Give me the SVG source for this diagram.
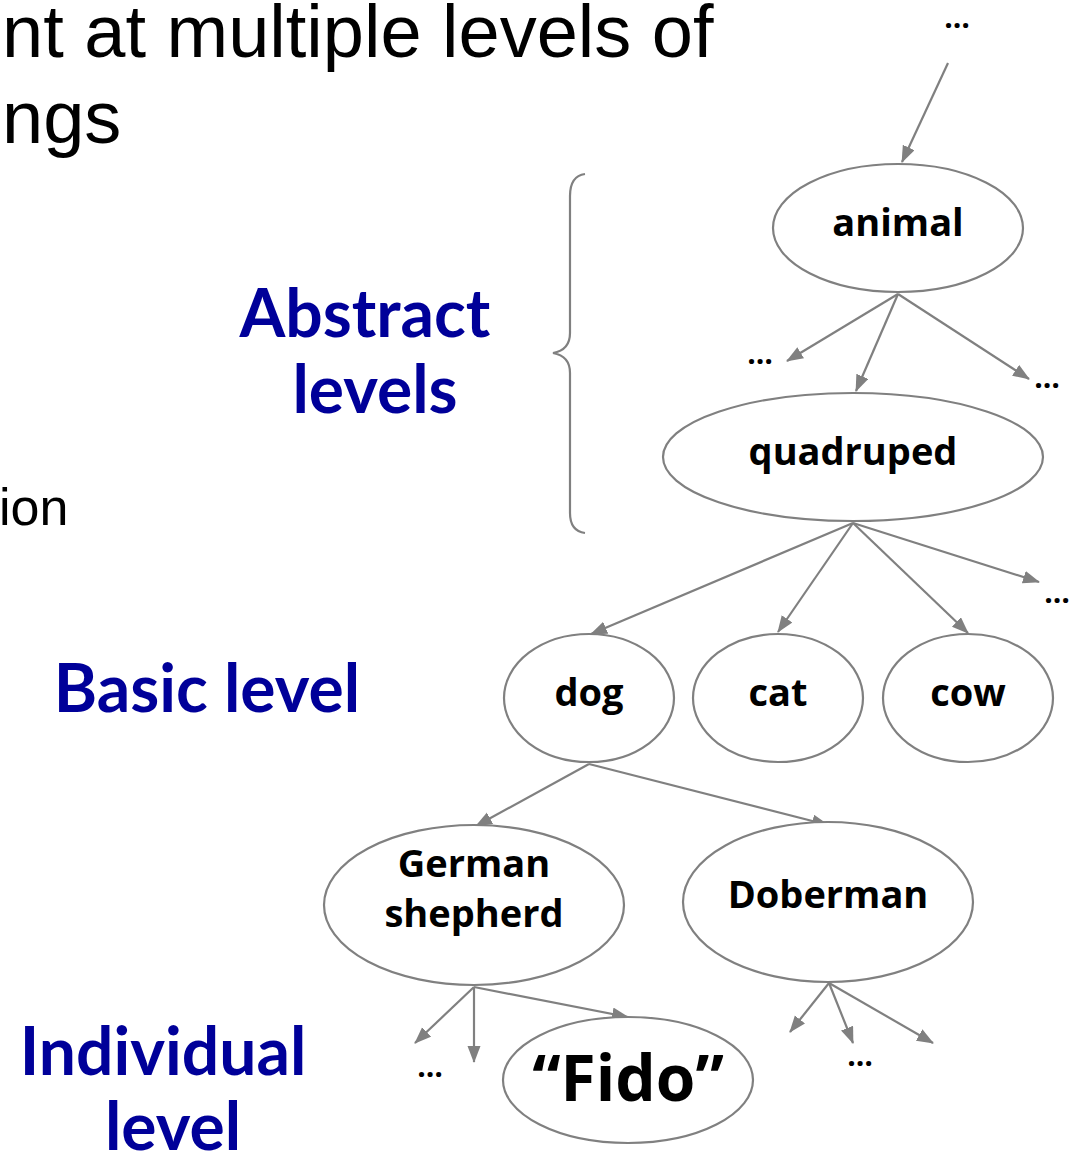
<svg xmlns="http://www.w3.org/2000/svg" width="1071" height="1152" viewBox="0 0 1071 1152">
  <style>
    .body { font-family: "Liberation Sans", Arial, sans-serif; fill: #000; }
    .lvl { font-family: "Lato", "Open Sans", sans-serif; font-weight: 700; fill: #000099; font-size: 66px; text-anchor: middle; }
    .lbl { font-family: "Open Sans", "Lato", sans-serif; font-weight: 700; fill: #000; font-size: 38px; text-anchor: middle; }
    .big { font-size: 64px; }
    .dots { font-family: "Open Sans", sans-serif; font-weight: 700; fill: #000; font-size: 30px; text-anchor: middle; }
    .node ellipse { fill: #fff; stroke: #808080; stroke-width: 2.2; }
    .edge { stroke: #808080; stroke-width: 2.2; fill: none; marker-end: url(#head); }
    .brace { stroke: #808080; stroke-width: 2.2; fill: none; }
  </style>
  <defs>
    <marker id="head" markerUnits="userSpaceOnUse" markerWidth="18" markerHeight="14" refX="16" refY="6.5" orient="auto">
      <path d="M0,0 L17,6.5 L0,13 Z" fill="#808080"/>
    </marker>
  </defs>
  <rect width="1071" height="1152" fill="#fff"/>

  <!-- slide body text (cut at left edge) -->
  <text class="body" x="2" y="57" font-size="74">nt at multiple levels of</text>
  <text class="body" x="2" y="143" font-size="74">ngs</text>
  <text class="body" x="-1" y="525" font-size="52">ion</text>

  <!-- level labels -->
  <text class="lvl" x="365" y="337">Abstract</text>
  <text class="lvl" x="375" y="413">levels</text>
  <text class="lvl" x="207" y="712">Basic level</text>
  <text class="lvl" x="163" y="1075">Individual</text>
  <text class="lvl" x="173" y="1150">level</text>

  <!-- brace spanning the abstract levels -->
  <path class="brace" d="M585,174 Q570,176 570,196 L570,333 Q570,350 553,353 Q570,356 570,373 L570,513 Q570,531 585,533"/>

  <!-- connectors -->
  <g id="edges">
    <line class="edge" x1="948" y1="63" x2="902" y2="162"/>
    <line class="edge" x1="898" y1="294" x2="787" y2="361"/>
    <line class="edge" x1="898" y1="294" x2="856" y2="391"/>
    <line class="edge" x1="898" y1="294" x2="1029" y2="379"/>
    <line class="edge" x1="853" y1="523" x2="591" y2="634"/>
    <line class="edge" x1="853" y1="523" x2="778" y2="632"/>
    <line class="edge" x1="853" y1="523" x2="968" y2="633"/>
    <line class="edge" x1="853" y1="523" x2="1039" y2="582"/>
    <line class="edge" x1="589" y1="764" x2="476" y2="826"/>
    <line class="edge" x1="589" y1="764" x2="828" y2="825"/>
    <line class="edge" x1="474" y1="987" x2="415" y2="1043"/>
    <line class="edge" x1="474" y1="987" x2="474" y2="1062"/>
    <line class="edge" x1="474" y1="987" x2="628" y2="1017"/>
    <line class="edge" x1="829" y1="983" x2="790" y2="1032"/>
    <line class="edge" x1="829" y1="983" x2="853" y2="1043"/>
    <line class="edge" x1="829" y1="983" x2="933" y2="1043"/>
  </g>

  <!-- elided branches -->
  <text class="dots" x="957" y="28">…</text>
  <text class="dots" x="760" y="364">…</text>
  <text class="dots" x="1047" y="388">…</text>
  <text class="dots" x="1057" y="603">…</text>
  <text class="dots" x="430" y="1077">…</text>
  <text class="dots" x="860" y="1066">…</text>

  <!-- nodes -->
  <g id="animal" class="node">
    <ellipse cx="898" cy="228" rx="125" ry="64"/>
    <text class="lbl" x="898" y="236">animal</text>
  </g>
  <g id="quadruped" class="node">
    <ellipse cx="853" cy="457" rx="190" ry="64"/>
    <text class="lbl" x="853" y="465">quadruped</text>
  </g>
  <g id="dog" class="node">
    <ellipse cx="589" cy="698" rx="85" ry="64"/>
    <text class="lbl" x="589" y="706">dog</text>
  </g>
  <g id="cat" class="node">
    <ellipse cx="778" cy="698" rx="85" ry="64"/>
    <text class="lbl" x="778" y="706">cat</text>
  </g>
  <g id="cow" class="node">
    <ellipse cx="968" cy="698" rx="85" ry="64"/>
    <text class="lbl" x="968" y="706">cow</text>
  </g>
  <g id="german-shepherd" class="node">
    <ellipse cx="474" cy="905" rx="150" ry="80"/>
    <text class="lbl" x="474" y="877">German</text>
    <text class="lbl" x="474" y="927">shepherd</text>
  </g>
  <g id="doberman" class="node">
    <ellipse cx="828" cy="902" rx="145" ry="80"/>
    <text class="lbl" x="828" y="908">Doberman</text>
  </g>
  <g id="fido" class="node">
    <ellipse cx="628" cy="1080" rx="125" ry="63"/>
    <text class="lbl big" x="628" y="1101">“Fido”</text>
  </g>
</svg>
